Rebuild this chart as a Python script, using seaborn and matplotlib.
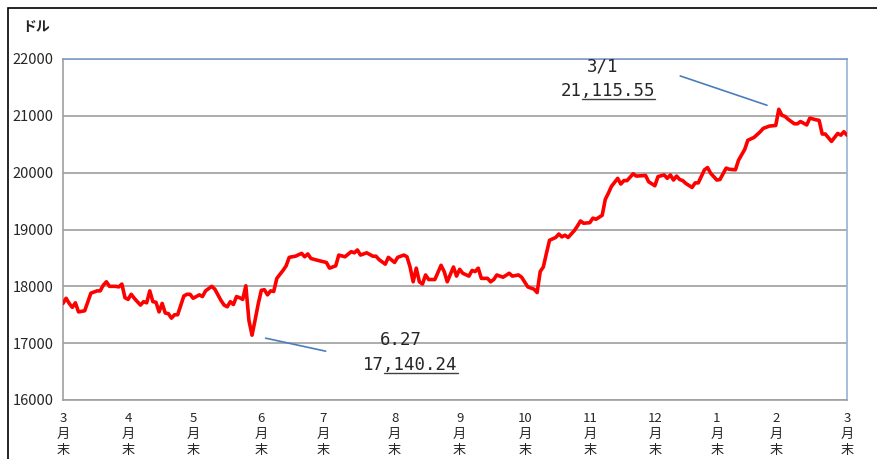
import numpy as np
import pandas as pd
import seaborn as sns
import matplotlib
import matplotlib.pyplot as plt
from matplotlib.patches import Rectangle
from matplotlib.lines import Line2D
from matplotlib.transforms import IdentityTransform

# trading day index (0 = end of March) and close (dollars)
days = [0, 1, 2, 3, 4, 5, 7, 9, 11, 12, 13, 14, 15, 17, 18, 19, 20, 21, 22, 23,
        25, 26, 27, 28, 29, 30, 31, 32, 33, 34, 35, 36, 37, 39, 40, 41, 42, 44,
        45, 46, 48, 49, 51, 52, 53, 54, 55, 56, 57, 58, 59, 60, 61, 62, 63, 64,
        65, 66, 67, 68, 69, 71, 72, 73, 75, 77, 78, 79, 80, 82, 85, 86, 88, 89,
        91, 93, 94, 95, 96, 98, 100, 101, 102, 104, 105, 107, 108, 110, 111, 112,
        113, 114, 115, 116, 117, 118, 120, 122, 123, 124, 126, 127, 128, 129, 131,
        132, 133, 134, 135, 137, 138, 139, 140, 142, 144, 145, 147, 148, 150, 152,
        153, 154, 155, 156, 157, 159, 160, 161, 162, 163, 165, 166, 167, 168, 170,
        171, 172, 174, 175, 176, 177, 179, 180, 181, 182, 184, 185, 188, 189, 191,
        192, 194, 195, 196, 197, 198, 199, 200, 201, 203, 204, 205, 207, 208, 209,
        211, 212, 214, 215, 217, 218, 220, 221, 223, 225, 226, 228, 230, 231, 232,
        233, 234, 236, 237, 238, 240, 241, 243, 244, 245, 246, 248, 250, 251, 252,
        253]
close = [17700, 17790, 17700, 17630, 17710, 17550, 17570, 17880, 17920, 17920,
         18020, 18080, 18000, 18000, 17990, 18040, 17800, 17770, 17860, 17790,
         17670, 17730, 17710, 17920, 17730, 17720, 17550, 17700, 17530, 17520,
         17440, 17500, 17500, 17830, 17860, 17860, 17790, 17850, 17820, 17920,
         18000, 17950, 17750, 17670, 17640, 17730, 17680, 17820, 17800, 17770,
         18010, 17400, 17140, 17410, 17690, 17930, 17940, 17850, 17920, 17910,
         18140, 18280, 18360, 18510, 18530, 18580, 18520, 18570, 18490, 18460,
         18420, 18320, 18360, 18550, 18520, 18610, 18590, 18640, 18550, 18590,
         18530, 18530, 18470, 18390, 18510, 18420, 18510, 18550, 18520, 18340,
         18080, 18320, 18080, 18040, 18200, 18120, 18120, 18370, 18260, 18080,
         18340, 18180, 18300, 18230, 18180, 18280, 18260, 18320, 18140, 18140,
         18080, 18120, 18200, 18160, 18230, 18180, 18200, 18160, 17990, 17950,
         17890, 18260, 18340, 18580, 18810, 18860, 18920, 18870, 18900, 18860,
         18980, 19060, 19150, 19110, 19120, 19200, 19180, 19250, 19530, 19640,
         19760, 19900, 19800, 19860, 19860, 19980, 19940, 19950, 19840, 19770,
         19930, 19960, 19900, 19960, 19870, 19940, 19880, 19860, 19810, 19740,
         19820, 19820, 20050, 20090, 19990, 19870, 19880, 20080, 20060, 20050,
         20220, 20410, 20570, 20620, 20720, 20780, 20820, 20830, 21115.55, 21010,
         20990, 20940, 20860, 20860, 20900, 20840, 20960, 20930, 20920, 20680,
         20680, 20550, 20690, 20660, 20720, 20660]

# month-end positions on the trading-day axis
month_end_days = [0, 21, 42, 64, 84, 107, 128, 149, 170, 191, 211, 230, 253]
months = [3, 4, 5, 6, 7, 8, 9, 10, 11, 12, 1, 2, 3]

min_day, min_label, min_text = 61, '6.27', '17,140.24'
max_day, max_label, max_text = 231, '3/1', '21,115.55'

sns.set_style('white')
plt.rcParams['font.family'] = ['Noto Sans CJK JP', 'DejaVu Sans']

fig = plt.figure(figsize=(8.77, 4.59), dpi=100)
ax = fig.add_axes([63 / 877, 1 - 400 / 459, 784 / 877, 341 / 459])

df = pd.DataFrame({'day': days, 'close': close})
sns.lineplot(data=df, x='day', y='close', color='#ff0000', lw=2.6, ax=ax, zorder=3)

ax.set_xlim(0, 253)
ax.set_ylim(16000, 22000)
ax.set_yticks(np.arange(16000, 22001, 1000))
ax.yaxis.grid(True, color='#a6a6a6', lw=1.3)
ax.set_xticks(month_end_days)
ax.set_xticklabels([f'{m}\n月\n末' for m in months], fontsize=9.5, linespacing=1.28)
ax.set_xticks(np.arange(0, 254), minor=True)
ax.tick_params(axis='x', which='major', length=4, color='#a0a0a0', pad=5)
ax.tick_params(axis='x', which='minor', length=3, color='#a0a0a0', width=0.6)
ax.tick_params(axis='y', length=5, color='#a0a0a0', labelsize=10.5, pad=2)
ax.set_xlabel('')
ax.set_ylabel('')

for side in ['left', 'bottom']:
    ax.spines[side].set_color('#a0a0a0')
    ax.spines[side].set_linewidth(1.2)
ax.spines['top'].set_color('#7f9ccb')
ax.spines['right'].set_color('#95b3d7')
ax.spines['top'].set_linewidth(1.2)
ax.spines['right'].set_linewidth(1.2)

fig.text(22 / 877, 1 - 27 / 459, 'ドル', fontsize=10, fontweight='bold', va='center')

# annotations for high and low
mono = 'DejaVu Sans Mono'
ax.annotate('', xy=(max_day, max(close)), xytext=(-71, 24), textcoords='offset points',
            arrowprops=dict(arrowstyle='-', color='#4a7ebb', lw=1.2, shrinkA=0, shrinkB=9))
ax.annotate('', xy=(min_day, min(close)), xytext=(53, -11.5), textcoords='offset points',
            arrowprops=dict(arrowstyle='-', color='#4a7ebb', lw=1.2, shrinkA=0, shrinkB=10))

labels = []
ax.annotate(max_label, xy=(max_day, max(close)), xytext=(-127, 31), textcoords='offset points',
            ha='center', va='center', fontsize=12.5, family=mono)
labels.append(ax.annotate(max_text, xy=(max_day, max(close)), xytext=(-123, 13),
                          textcoords='offset points', ha='center', va='center',
                          fontsize=12.5, family=mono))
ax.annotate(min_label, xy=(min_day, min(close)), xytext=(107, -3.6), textcoords='offset points',
            ha='center', va='center', fontsize=12.5, family=mono)
labels.append(ax.annotate(min_text, xy=(min_day, min(close)), xytext=(114, -21.6),
                          textcoords='offset points', ha='center', va='center',
                          fontsize=12.5, family=mono))

# outer chart frame
fig.patches.append(Rectangle((8 / 877, -0.5), 2, 0.5 + 1 - 8 / 459, transform=fig.transFigure,
                             fill=False, ec='black', lw=1.2))

# underline from the comma to the end, as in the source
fig.canvas.draw()
renderer = fig.canvas.get_renderer()
for t in labels:
    bb = t.get_window_extent(renderer)
    cw = bb.width / len(t.get_text())
    y = bb.y0 + 1
    fig.add_artist(Line2D([bb.x0 + 2 * cw, bb.x1], [y, y], transform=IdentityTransform(),
                          color='#404040', lw=1))

fig.savefig('out.png', dpi=100)
